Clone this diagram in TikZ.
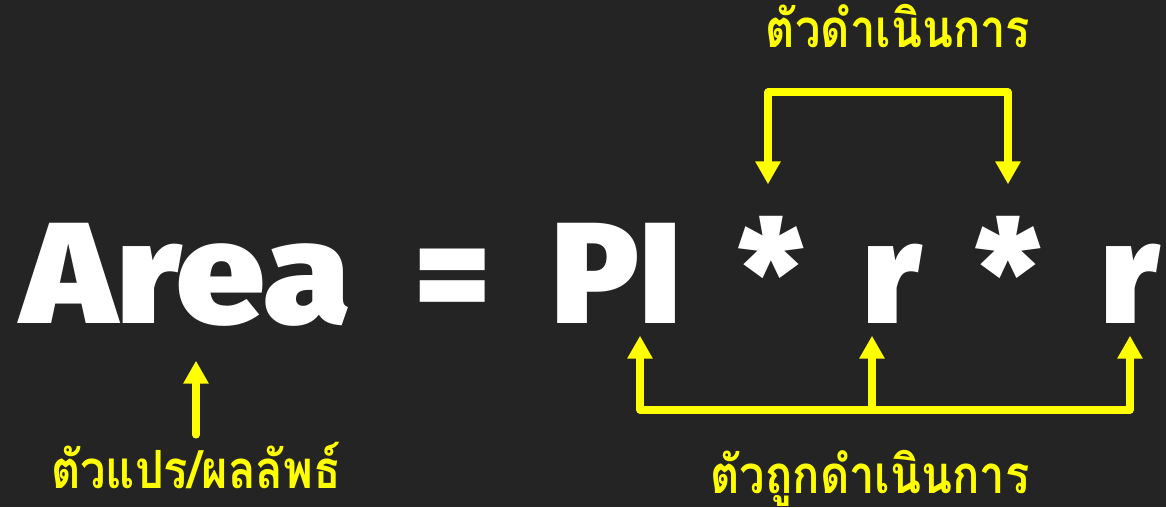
\documentclass[tikz,border=0pt]{standalone}
\usepackage{fontspec}
\setmainfont{Fira Sans}
\newfontfamily\eqfont{Fira Sans}[UprightFont={* Black}]
\newfontfamily\thaifont[Script=Thai, FakeStretch=0.86]{Loma}
\usepackage{tikz}
\usetikzlibrary{arrows.meta, calc}
\definecolor{board}{RGB}{36,36,36}
\definecolor{marker}{RGB}{255,255,0}

\begin{document}
\begin{tikzpicture}[
  eqtext/.style={anchor=base, inner sep=0pt, text height=1.05cm, text depth=0pt, text=white, font=\eqfont\fontsize{41}{41}\selectfont},
  thailabel/.style={anchor=base, inner sep=0pt, text=marker, font=\thaifont\bfseries\fontsize{15}{15}\selectfont},
  ybar/.style={draw=marker, line width=2pt, line cap=round},
  yarrow/.style={ybar, -{Triangle[width=6.8pt,length=6.5pt]}}]
\fill[board] (0,0) rectangle (11.66,5.07);
\useasboundingbox (0,0) rectangle (11.66,5.07);
% equation
\node[eqtext] (area) at (1.86,1.84) {\addfontfeature{FakeStretch=1.1}Area};
\node[eqtext] (eq) at (4.53,1.84) {=};
\node[eqtext] (pi) at (6.17,1.84) {PI};
\node[eqtext] (star1) at (7.71,1.84) {*};
\node[eqtext] (r1) at (8.92,1.84) {r};
\node[eqtext] (star2) at (10.08,1.84) {*};
\node[eqtext] (r2) at (11.30,1.84) {r};
% labels
\node[thailabel] (oplabel) at (8.98,4.60) {ตัวดำเนินการ};
\node[thailabel] (operandlabel) at (8.70,0.14) {ตัวถูกดำเนินการ};
\node[thailabel] (varlabel) at (1.96,0.19) {ตัวแปร/ผลลัพธ์};
% operator bracket
\coordinate (opL) at (7.68,4.15);
\coordinate (opR) at (10.08,4.15);
\draw[ybar] (opL) -- (opR);
\draw[yarrow, shorten >=0.33cm] (opL) -- (opL |- star1.north);
\draw[yarrow, shorten >=0.33cm] (opR) -- (opR |- star2.north);
% operand bracket
\coordinate (bL) at (6.40,0.97);
\coordinate (bM) at (8.72,0.97);
\coordinate (bR) at (11.30,0.97);
\draw[ybar] (bL) -- (bR);
\draw[yarrow, shorten >=0.12cm] (bL) -- (bL |- pi.south);
\draw[yarrow, shorten >=0.12cm] (bM) -- (bM |- r1.south);
\draw[yarrow, shorten >=0.12cm] (bR) -- (bR |- r2.south);
% result arrow
\coordinate (resfoot) at (1.96,0.72);
\draw[yarrow, shorten >=0.37cm] (resfoot) -- (resfoot |- area.south);
\end{tikzpicture}
\end{document}
